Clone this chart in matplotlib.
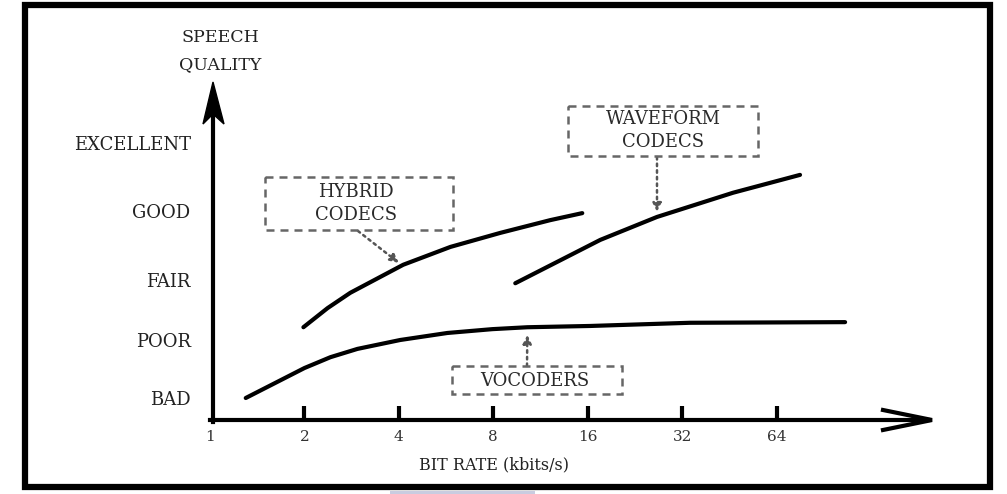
import matplotlib
matplotlib.use("Agg")
import matplotlib.pyplot as plt
from matplotlib.patches import Rectangle, Polygon

plt.rcParams['font.family'] = ['DejaVu Serif']

# quality scale (category labels and where they sit on the quality axis)
levels = ['BAD', 'POOR', 'FAIR', 'GOOD', 'EXCELLENT']
level_pos = [1.0, 1.91, 2.85, 3.93, 5.0]

# bit rate ticks (kbit/s)
rate_ticks = [1, 2, 4, 8, 16, 32, 64]

# curves: bit rate (kbit/s) vs quality
voc_rate = [1.3, 1.62, 2.0, 2.42, 2.95, 4.04, 5.71, 7.94, 10.27, 16.3, 33.9, 105.8]
voc_q = [1.0, 1.24, 1.47, 1.64, 1.77, 1.91, 2.02, 2.08, 2.11, 2.13, 2.18, 2.19]

hyb_rate = [1.985, 2.37, 2.80, 4.13, 5.84, 8.42, 12.15, 15.37]
hyb_q = [2.11, 2.41, 2.65, 3.09, 3.37, 3.59, 3.79, 3.90]

wav_rate = [9.40, 13.08, 17.54, 26.6, 46.5, 76.0]
wav_q = [2.80, 3.16, 3.48, 3.84, 4.22, 4.50]

W, H = 1007, 494
fig = plt.figure(figsize=(W / 100, H / 100), dpi=100)

# main axes: left edge at rate 1, bottom at the x axis line
ax = fig.add_axes([210 / W, (H - 420) / H, (933 - 210) / W, (420 - 82) / H])
ax.set_xscale('log', base=2)
ax.set_xlim(1, 2 ** ((933 - 209.5) / 94.5))
ax.set_ylim(1 - 22 / 63.75, 1 + (398 - 82) / 63.75)
for s in ax.spines.values():
    s.set_visible(False)
ax.patch.set_alpha(0)

ax.set_xticks(rate_ticks)
ax.set_xticklabels([str(r) for r in rate_ticks], fontsize=11, color='#333333')
ax.xaxis.set_minor_locator(matplotlib.ticker.NullLocator())
ax.tick_params(axis='x', direction='in', length=10, width=3, pad=7, color='black')
ax.get_xticklines()[0].set_visible(False)  # no tick mark at 1

ax.set_yticks(level_pos)
ax.set_yticklabels(levels, fontsize=13, color='#222222')
ax.tick_params(axis='y', length=0, pad=14)

line_kw = dict(color='black', lw=3, solid_capstyle='round', clip_on=False)
ax.plot(voc_rate, voc_q, **line_kw)
ax.plot(hyb_rate, hyb_q, **line_kw)
ax.plot(wav_rate, wav_q, **line_kw)

# overlay in pixel coordinates for frame, axes arrows and label boxes
ov = fig.add_axes([0, 0, 1, 1], zorder=5)
ov.set_xlim(0, W)
ov.set_ylim(H, 0)
ov.axis('off')

ov.add_patch(Rectangle((25, 5), 965, 482, fill=False, lw=4.5, ec='black'))
ov.add_patch(Rectangle((390, 490.5), 145, 4, fc='#c9cce0', ec='none'))

# axis arrows
ov.plot([213, 213], [422, 100], color='black', lw=3)
ov.add_patch(Polygon([(213, 82), (224, 124), (213, 114), (203, 124)],
                     closed=True, fc='black', ec='black', lw=1))
ov.plot([210, 928], [420, 420], color='black', lw=3)
ov.plot([883, 932, 883], [410, 420, 430], color='black', lw=3,
        solid_joinstyle='miter')

ov.text(220, 38, 'SPEECH', ha='center', va='center', fontsize=12.5, color='#222222')
ov.text(220, 65, 'QUALITY', ha='center', va='center', fontsize=12.5, color='#222222')
ov.text(494, 465, 'BIT RATE (kbits/s)', ha='center', va='center', fontsize=11.5,
        color='#222222')

box_kw = dict(fill=False, ec='#666666', lw=1.8, ls=(0, (3.2, 2.4)))
ov.add_patch(Rectangle((265, 177), 188, 53, **box_kw))
ov.add_patch(Rectangle((568, 106), 190, 50, **box_kw))
ov.add_patch(Rectangle((452, 366), 170, 28, **box_kw))

txt_kw = dict(ha='center', va='center', fontsize=13, color='#2a2a2a')
ov.text(356, 192, 'HYBRID', **txt_kw)
ov.text(356, 215, 'CODECS', **txt_kw)
ov.text(663, 119, 'WAVEFORM', **txt_kw)
ov.text(663, 142, 'CODECS', **txt_kw)
ov.text(535, 381, 'VOCODERS', **txt_kw)

arrow_kw = dict(arrowstyle='-|>,head_length=0.5,head_width=0.25', ls=':', lw=1.8,
                color='#555555', mutation_scale=10, shrinkA=0, shrinkB=0)
ax.annotate('', xy=(4.0, 3.12), xytext=(358, 231), textcoords=ov.transData,
            arrowprops=arrow_kw)
ax.annotate('', xy=(26.6, 3.92), xytext=(657, 157), textcoords=ov.transData,
            arrowprops=arrow_kw)
ax.annotate('', xy=(10.27, 1.99), xytext=(527, 366), textcoords=ov.transData,
            arrowprops=arrow_kw)

fig.savefig('out.png', dpi=100, facecolor='white')
